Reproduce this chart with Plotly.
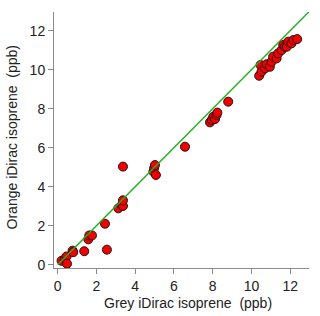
import plotly.graph_objects as go

grey = [0.2, 0.38, 0.46, 0.48, 0.77, 0.8, 1.37, 1.58, 1.63, 1.77, 2.44, 2.54,
        3.13, 3.3, 3.37, 3.37, 3.37, 4.94, 4.98, 5.02, 5.07, 6.57,
        7.86, 7.95, 8.03, 8.12, 8.2, 8.24, 8.8,
        10.4, 10.47, 10.52, 10.7, 10.78, 10.95, 11.04, 11.12, 11.3, 11.38,
        11.56, 11.64, 11.73, 11.82, 11.9, 12.07, 12.16, 12.36]
orange = [0.2, 0.3, 0.42, 0.05, 0.72, 0.64, 0.69, 1.3, 1.5, 1.5, 2.1, 0.77,
          2.89, 3.05, 3.01, 3.3, 5.03, 4.77, 4.96, 5.11, 4.6, 6.05,
          7.3, 7.42, 7.59, 7.47, 7.68, 7.8, 8.36,
          9.69, 10.24, 9.9, 10.07, 10.28, 10.15, 10.41, 10.67, 10.58, 10.84,
          11.01, 11.27, 11.18, 11.18, 11.44, 11.35, 11.52, 11.57]
line_x = [0, 13]
line_y = [0, 13]
ticks = [0, 2, 4, 6, 8, 10, 12]
x_title = "Grey iDirac isoprene  (ppb)"
y_title = "Orange iDirac isoprene  (ppb)"

fig = go.Figure()
fig.add_trace(go.Scatter(x=grey, y=orange, mode="markers",
                         marker=dict(size=9, color="#f00000",
                                     line=dict(color="#2a1010", width=1)),
                         showlegend=False, cliponaxis=False))
fig.add_trace(go.Scatter(x=line_x, y=line_y, mode="lines",
                         line=dict(color="#22b022", width=1.5),
                         showlegend=False))

axis_common = dict(showline=True, linecolor="#8a8a8a", linewidth=1,
                   ticks="outside", ticklen=5, tickcolor="#8a8a8a", tickwidth=1,
                   showgrid=False, zeroline=False, tickvals=ticks,
                   automargin=False,
                   tickfont=dict(size=14, color="#222222"))
fig.update_layout(
    width=320, height=316,
    margin=dict(l=54, r=11, t=12, b=48),
    plot_bgcolor="white", paper_bgcolor="white",
    font=dict(family="Arial, Liberation Sans, sans-serif", size=14, color="#222222"),
    xaxis=dict(range=[-0.19, 12.97], **axis_common),
    yaxis=dict(range=[-0.17, 12.96], **axis_common),
    annotations=[
        dict(text=x_title, xref="paper", yref="paper", x=0.525, y=0,
             xanchor="center", yanchor="middle", yshift=-35, showarrow=False,
             font=dict(size=14, color="#222222")),
        dict(text=y_title, xref="paper", yref="paper", x=0, y=0.51,
             xanchor="center", yanchor="middle", xshift=-42, textangle=-90,
             showarrow=False, font=dict(size=14, color="#222222")),
    ],
)
fig.write_html("out.html", config={"displayModeBar": False},
               post_script="document.body.style.margin='0';")
